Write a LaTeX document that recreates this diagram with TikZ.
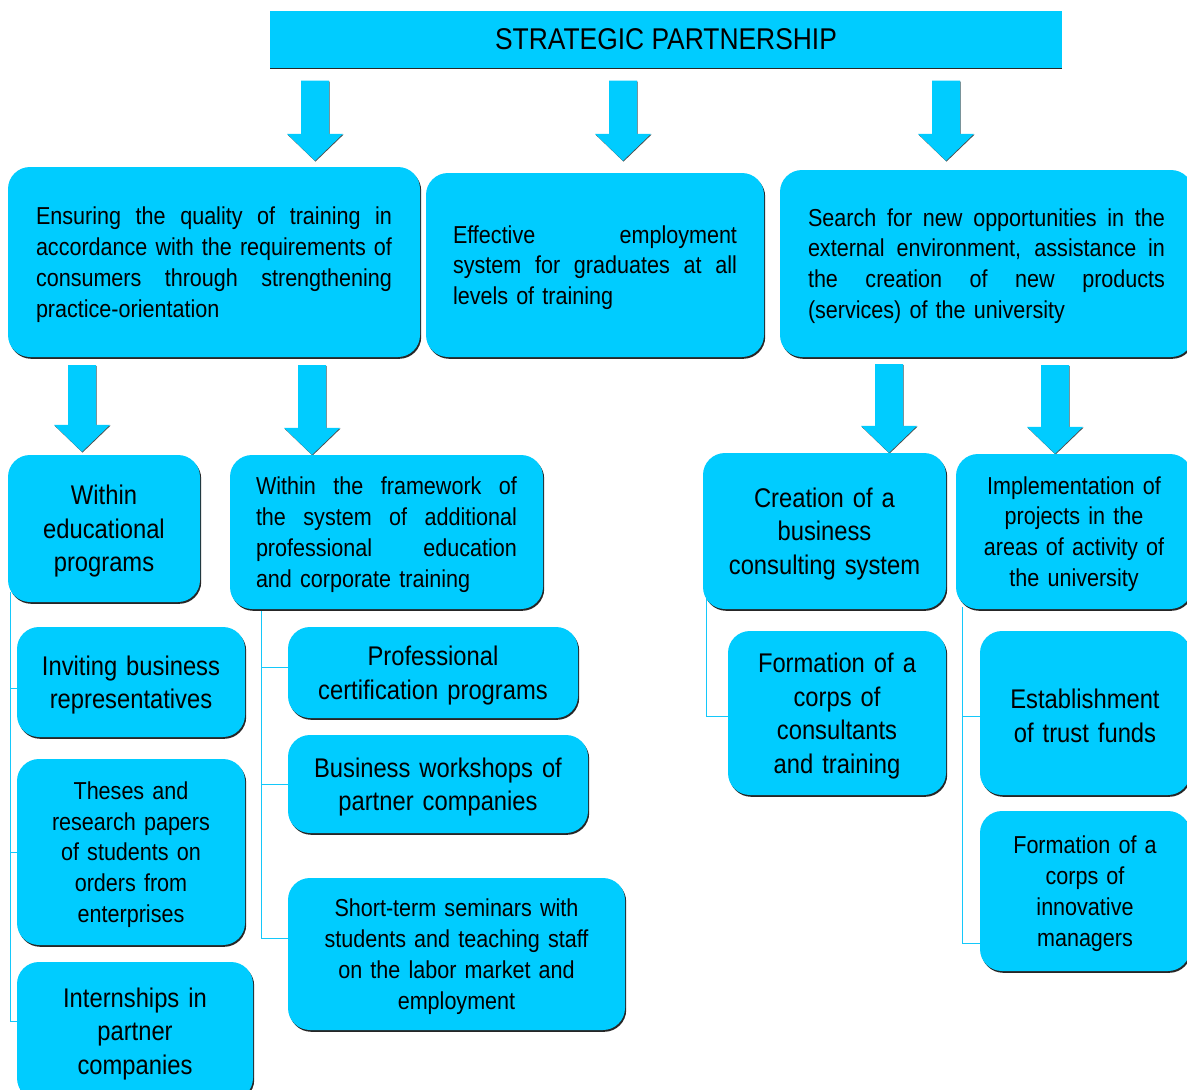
\documentclass[tikz,border=0pt]{standalone}
\usepackage{fontspec}
\setmainfont{Liberation Sans}[FakeStretch=0.88]
\usetikzlibrary{shadows,calc}
\pgfdeclarelayer{background}
\pgfsetlayers{background,main}

\definecolor{boxcyan}{RGB}{0,204,255}
\definecolor{linecyan}{RGB}{20,200,250}

\newcommand\smalltxt{\fontsize{24.5}{30.8}\selectfont}
\newcommand\bigtxt{\fontsize{27}{33.5}\selectfont}
% one justified line, a last (ragged) line, and a centred line
\newcommand\JustRow[1]{\par\noindent\hbox to\hsize{\spaceskip=\fontdimen2\font plus 1fil minus 0.12em #1}\par}
\newcommand\LastRow[1]{\par\noindent\hbox to\hsize{#1\hfil}\par\kern8pt}
\newcommand\MidRow[1]{\par\noindent\hbox to\hsize{\hfil#1\hfil}\par}
\newcommand\MidLast[1]{\par\noindent\hbox to\hsize{\hfil#1\hfil}\par\kern8pt}

% broad downward block arrow between two nodes
% #1 x position, #2 upper node, #3 lower node, #4 gap below #2, #5 gap above #3
\newcommand\blockdown[5]{%
  \fill[arrowfill] let \p1=(#2.south), \p2=(#3.north) in
    ({#1pt-14pt},{\y1-#4pt}) -- ({#1pt+14pt},{\y1-#4pt})
    -- ({#1pt+14pt},{\y2+#5pt+27pt}) -- ({#1pt+28pt},{\y2+#5pt+27pt})
    -- ({#1pt},{\y2+#5pt})
    -- ({#1pt-28pt},{\y2+#5pt+27pt}) -- ({#1pt-14pt},{\y2+#5pt+27pt}) -- cycle;}

\tikzset{
  cbox/.style={fill=boxcyan, rounded corners=22pt, inner sep=0pt,
    drop shadow={shadow xshift=1.2pt, shadow yshift=-1.8pt, fill=black!85, opacity=1}},
  tbox/.style={fill=boxcyan, inner sep=0pt,
    drop shadow={shadow xshift=0pt, shadow yshift=-1.6pt, fill=black!85, opacity=1}},
  arrowfill/.style={fill=boxcyan,
    drop shadow={shadow xshift=0.5pt, shadow yshift=-0.8pt, fill=black!70, opacity=1}},
  conn/.style={draw=linecyan, line width=1pt},
}

\begin{document}
\begin{tikzpicture}[x=1pt,y=-1pt]
\useasboundingbox (0,0) rectangle (1187,1090);
\clip (0,0) rectangle (1187,1090);

% top
\node[tbox, minimum width=792pt, minimum height=57pt, font=\fontsize{30}{36}\selectfont]
  (title) at (666,39) {STRATEGIC PARTNERSHIP};

% first level
\node[cbox, minimum width=412pt, minimum height=190pt, text width=356pt, font=\smalltxt]
  (L1) at (214,262) {\JustRow{Ensuring the quality of training in}\JustRow{accordance with the requirements of}\JustRow{consumers through strengthening}\LastRow{practice-orientation}};
\node[cbox, minimum width=338pt, minimum height=184pt, text width=284pt, font=\smalltxt]
  (M1) at (595,265) {\JustRow{Effective employment}\JustRow{system for graduates at all}\LastRow{levels of training}};
\node[cbox, minimum width=413pt, minimum height=187pt, text width=357pt, font=\smalltxt]
  (R1) at (986.5,263.5) {\JustRow{Search for new opportunities in the}\JustRow{external environment, assistance in}\JustRow{the creation of new products}\LastRow{(services) of the university}};

% second level
\node[cbox, minimum width=192pt, minimum height=147pt, text width=186pt, font=\bigtxt]
  (L2a) at (104,528.5) {\MidRow{Within}\MidRow{educational}\MidLast{programs}};
\node[cbox, minimum width=313pt, minimum height=154pt, text width=261pt, font=\smalltxt]
  (L2b) at (386.5,532) {\JustRow{Within the framework of}\JustRow{the system of additional}\JustRow{professional education}\LastRow{and corporate training}};
\node[cbox, minimum width=243pt, minimum height=156pt, text width=237pt, font=\bigtxt]
  (R2a) at (824.5,531) {\MidRow{Creation of a}\MidRow{business}\MidLast{consulting system}};
\node[cbox, minimum width=236pt, minimum height=155pt, text width=230pt, font=\smalltxt]
  (R2b) at (1074,531.5) {\MidRow{Implementation of}\MidRow{projects in the}\MidRow{areas of activity of}\MidLast{the university}};

% leaves under "Within educational programs"
\node[cbox, minimum width=228pt, minimum height=110pt, text width=222pt, font=\bigtxt]
  (inv) at (131,682) {\MidRow{Inviting business}\MidLast{representatives}};
\node[cbox, minimum width=228pt, minimum height=186pt, text width=222pt, font=\smalltxt]
  (theses) at (131,852) {\MidRow{Theses and}\MidRow{research papers}\MidRow{of students on}\MidRow{orders from}\MidLast{enterprises}};
\node[cbox, minimum width=236pt, minimum height=138pt, text width=230pt, font=\bigtxt]
  (intern) at (135,1031) {\MidRow{Internships in}\MidRow{partner}\MidLast{companies}};

% leaves under additional education
\node[cbox, minimum width=290pt, minimum height=91pt, text width=284pt, font=\bigtxt]
  (prof) at (433,672.5) {\MidRow{Professional}\MidLast{certification programs}};
\node[cbox, minimum width=300pt, minimum height=98pt, text width=294pt, font=\bigtxt]
  (busws) at (438,784) {\MidRow{Business workshops of}\MidLast{partner companies}};
\node[cbox, minimum width=337pt, minimum height=152pt, text width=331pt, font=\smalltxt]
  (short) at (456.5,954) {\MidRow{Short-term seminars with}\MidRow{students and teaching staff}\MidRow{on the labor market and}\MidLast{employment}};

% leaves on the right
\node[cbox, minimum width=218pt, minimum height=164pt, text width=212pt, font=\bigtxt]
  (consult) at (837,713) {\MidRow{Formation of a}\MidRow{corps of}\MidRow{consultants}\MidLast{and training}};
\node[cbox, minimum width=210pt, minimum height=164pt, text width=204pt, font=\bigtxt]
  (trust) at (1085,713) {\MidRow{Establishment}\MidLast{of trust funds}};
\node[cbox, minimum width=210pt, minimum height=160pt, text width=204pt, font=\smalltxt]
  (innov) at (1085,891) {\MidRow{Formation of a}\MidRow{corps of}\MidRow{innovative}\MidLast{managers}};

\begin{pgfonlayer}{background}
  % block arrows
  \blockdown{315}{title}{L1}{13}{6}
  \blockdown{623}{title}{M1}{13}{12}
  \blockdown{946}{title}{R1}{13}{9}
  \blockdown{82}{L1}{L2a}{8}{3}
  \blockdown{312}{L1}{L2b}{8}{0}
  \blockdown{889}{R1}{R2a}{7}{0}
  \blockdown{1055}{R1}{R2b}{8}{0}

  % tree connectors
  \draw[conn] ([xshift=3pt,yshift=10pt]L2a.south west) |- ([yshift=-6pt]inv.west);
  \draw[conn] ([xshift=3pt,yshift=10pt]L2a.south west) |- (theses.west);
  \draw[conn] ([xshift=3pt,yshift=10pt]L2a.south west) |- ([yshift=10pt]intern.west);

  \draw[conn] ([xshift=32pt,yshift=2pt]L2b.south west) |- ([yshift=5pt]prof.west);
  \draw[conn] ([xshift=32pt,yshift=2pt]L2b.south west) |- (busws.west);
  \draw[conn] ([xshift=32pt,yshift=2pt]L2b.south west) |- ([yshift=16pt]short.west);

  \draw[conn] ([xshift=4pt,yshift=10pt]R2a.south west) |- ([yshift=-3pt]consult.west);

  \draw[conn] ([xshift=7pt,yshift=2pt]R2b.south west) |- ([yshift=-3pt]trust.west);
  \draw[conn] ([xshift=7pt,yshift=2pt]R2b.south west) |- ([yshift=-52pt]innov.west);
\end{pgfonlayer}
\end{tikzpicture}
\end{document}
